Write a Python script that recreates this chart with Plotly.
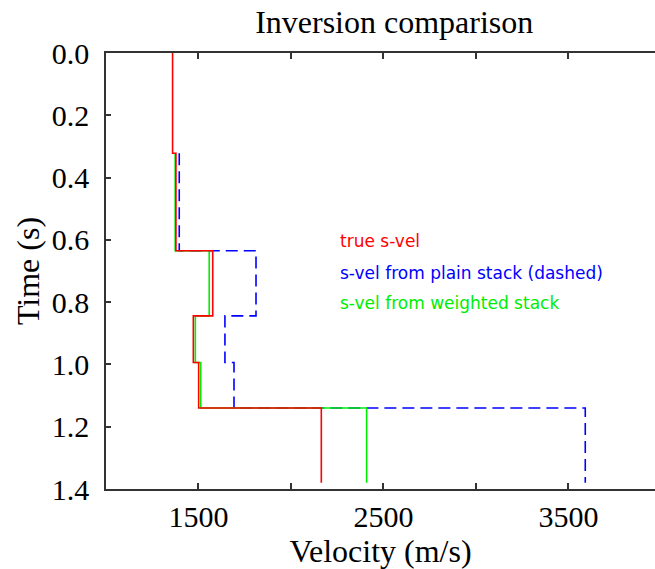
import plotly.graph_objects as go

# Layer interface times (s) and layer velocities (m/s)
true_times = [0.0, 0.322, 0.635, 0.844, 0.994, 1.14, 1.38]
true_vel = [1360, 1378, 1577, 1472, 1501, 2164]

inv_times = [0.322, 0.635, 0.844, 0.994, 1.14, 1.38]
plain_vel = [1396, 1811, 1643, 1692, 3591]
weighted_vel = [1374, 1558, 1483, 1512, 2409]

x_tickvals = [1000, 1500, 2000, 2500, 3000, 3500, 4000]
x_ticktext = ["", "1500", "", "2500", "", "3500", ""]
y_tickvals = [0.0, 0.2, 0.4, 0.6, 0.8, 1.0, 1.2, 1.4]
y_ticktext = ["0.0", "0.2", "0.4", "0.6", "0.8", "1.0", "1.2", "1.4"]


def step_profile(times, vels):
    # repeat the last velocity so the profile runs down to the final time
    return vels + [vels[-1]], times


fig = go.Figure()

xs, ys = step_profile(inv_times, plain_vel)
fig.add_trace(go.Scatter(x=xs, y=ys, mode="lines", line_shape="vh",
                         line=dict(color="#0000ff", width=1.6, dash="12px,6px"),
                         name="s-vel from plain stack (dashed)"))
xs, ys = step_profile(inv_times, weighted_vel)
fig.add_trace(go.Scatter(x=xs, y=ys, mode="lines", line_shape="vh",
                         line=dict(color="#00ee00", width=1.6),
                         name="s-vel from weighted stack"))
xs, ys = step_profile(true_times, true_vel)
fig.add_trace(go.Scatter(x=xs, y=ys, mode="lines", line_shape="vh",
                         line=dict(color="#ff0000", width=1.6),
                         name="true s-vel"))

label_font = dict(family="DejaVu Sans", size=17)
labels = [("true s-vel", 0.605, "#ff0000"),
          ("s-vel from plain stack (dashed)", 0.705, "#0000ff"),
          ("s-vel from weighted stack", 0.802, "#00ee00")]
for text, yv, col in labels:
    fig.add_annotation(x=2254, y=yv, xref="x", yref="y", text=text,
                       showarrow=False, xanchor="left", yanchor="middle",
                       font=dict(color=col, **label_font))

serif = "Liberation Serif"
fig.update_layout(
    width=655, height=569,
    margin=dict(l=106, r=0, t=53, b=80),
    paper_bgcolor="white", plot_bgcolor="white",
    showlegend=False,
    title=dict(text="Inversion comparison", x=0.525, xanchor="center",
               xref="paper", y=1 - 22 / 569, yanchor="middle",
               font=dict(family=serif, size=32, color="black")),
    font=dict(family=serif, color="black"),
)
fig.update_xaxes(
    range=[1000, 3968], tickvals=x_tickvals, ticktext=x_ticktext,
    showgrid=False, zeroline=False,
    showline=True, linecolor="#333333", linewidth=1.5, mirror="ticks",
    ticks="inside", ticklen=6, tickwidth=1.5, tickcolor="#333333",
    tickfont=dict(family=serif, size=30, color="black"),
    title=dict(text="Velocity (m/s)", standoff=4,
               font=dict(family=serif, size=32, color="black")),
)
fig.update_yaxes(
    range=[1.4, 0.0], tickvals=y_tickvals, ticktext=y_ticktext,
    showgrid=False, zeroline=False,
    showline=True, linecolor="#333333", linewidth=1.5, mirror=False,
    ticks="inside", ticklen=5, tickwidth=1.5, tickcolor="#333333",
    ticklabelstandoff=9,
    tickfont=dict(family=serif, size=30, color="black"),
    title=dict(text="Time (s)", standoff=3,
               font=dict(family=serif, size=32, color="black")),
)

fig.write_html("out.html")
